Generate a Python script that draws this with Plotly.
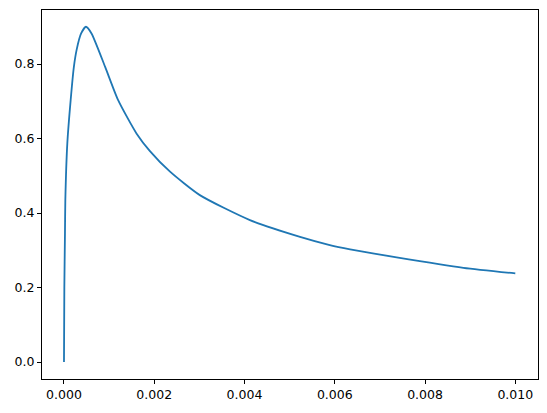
import plotly.graph_objects as go

x_vals = [0, 0.000008, 0.000022, 0.00003, 0.000074, 0.000148, 0.00022, 0.00028, 0.00038,
          0.000487, 0.00061, 0.00091, 0.0012, 0.00161, 0.0019, 0.00235, 0.00301, 0.00412,
          0.00523, 0.00589, 0.00634, 0.00737, 0.00885, 0.01]
y_vals = [0, 0.2, 0.345, 0.435, 0.587, 0.703, 0.793, 0.838, 0.882,
          0.900, 0.882, 0.793, 0.703, 0.613, 0.567, 0.511, 0.448, 0.381,
          0.336, 0.314, 0.3025, 0.281, 0.253, 0.238]

x_ticks = [0, 0.002, 0.004, 0.006, 0.008, 0.010]
y_ticks = [0.0, 0.2, 0.4, 0.6, 0.8]

fig = go.Figure()
fig.add_trace(go.Scatter(x=x_vals, y=y_vals, mode="lines",
                         line=dict(color="#1f77b4", width=1.8, shape="spline", smoothing=0.6),
                         showlegend=False))

axis_common = dict(showline=True, linecolor="black", linewidth=1, mirror=True,
                   ticks="outside", ticklen=4, tickwidth=1, tickcolor="black",
                   showgrid=False, zeroline=False,
                   tickfont=dict(family="DejaVu Sans", size=12.5, color="black"))

fig.update_xaxes(range=[-0.000487, 0.010503], tickvals=x_ticks,
                 ticktext=[f"{v:.3f}" for v in x_ticks], **axis_common)
fig.update_yaxes(range=[-0.0456, 0.945], tickvals=y_ticks,
                 ticktext=[f"{v:.1f}" for v in y_ticks], **axis_common)

fig.update_layout(width=547, height=413, margin=dict(l=42, r=9, t=10, b=34),
                  plot_bgcolor="white", paper_bgcolor="white")

fig.write_html("out.html", config={"displayModeBar": False},
               post_script="document.body.style.margin='0';document.body.style.padding='0';")
